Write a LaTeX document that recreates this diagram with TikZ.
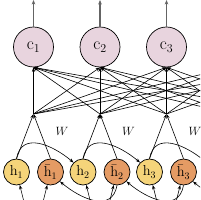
\documentclass[tikz,border=0pt]{standalone}
\usetikzlibrary{arrows.meta}
\definecolor{cpink}{RGB}{232,212,222}
\definecolor{hyel}{RGB}{245,212,122}
\definecolor{hora}{RGB}{229,155,100}
\definecolor{topgray}{RGB}{100,100,100}
\begin{document}
\begin{tikzpicture}[x=1pt,y=1pt,
  conn/.style={line width=0.6pt, -{Stealth[length=4.5pt,width=3.2pt]}},
  topconn/.style={line width=1.2pt, draw=topgray, -{Stealth[length=4.5pt,width=3.6pt]}},
  cnode/.style={circle, draw, line width=0.7pt, fill=cpink, minimum size=40pt, inner sep=0pt, font=\fontsize{17}{19}\selectfont},
  hnode/.style={circle, draw, line width=0.7pt, fill=hyel, minimum size=26pt, inner sep=0pt, font=\fontsize{14}{16}\selectfont},
  bnode/.style={hnode, fill=hora},
  wlab/.style={font=\fontsize{13}{15}\selectfont}
]
\useasboundingbox (0,0) rectangle (200,200);
\clip (0,0) rectangle (200,200);
% top nodes
\node[cnode] (c1) at (33.5,153) {$\mathrm{c}_1$};
\node[cnode] (c2) at (100,153) {$\mathrm{c}_2$};
\node[cnode] (c3) at (166.5,153) {$\mathrm{c}_3$};
\coordinate (cs1) at (c1.south);
\coordinate (cs2) at (c2.south);
\coordinate (cs3) at (c3.south);
\coordinate (cs4) at (233,133);
\coordinate (cs5) at (299.5,133);
\coordinate (T1) at (33.5,200);
\coordinate (T2) at (100,200);
\coordinate (T3) at (166.5,200);
% junctions and inputs
\foreach \k/\x in {1/33.5,2/100,3/166.5,4/233,5/299.5}{
  \coordinate (J\k) at (\x,86);
  \coordinate (X\k) at (\x,-40);
}
% hidden nodes
\node[hnode] (h1) at (16.5,28) {$\mathrm{h}_1$};
\node[bnode] (hb1) at (50.5,28) {$\bar{\mathrm{h}}_1$};
\node[hnode] (h2) at (83,28) {$\mathrm{h}_2$};
\node[bnode] (hb2) at (117,28) {$\bar{\mathrm{h}}_2$};
\node[hnode] (h3) at (149.5,28) {$\mathrm{h}_3$};
\node[bnode] (hb3) at (183.5,28) {$\bar{\mathrm{h}}_3$};
\coordinate (h4nw) at (206.8,37.2);
\coordinate (hb4s) at (250,15);
% outputs
\foreach \k in {1,2,3}{ \draw[topconn] (c\k.north) -- (T\k); }
% attention connections
\foreach \j in {1,...,5}{
  \foreach \i in {1,...,5}{
    \draw[conn] (J\j) -- (cs\i);
  }
}
% hidden to junction
\foreach \k in {1,2,3}{
  \draw[conn] (h\k.north) -- (J\k);
  \draw[conn] (hb\k.north) -- (J\k);
  \draw[conn] (X\k) -- (h\k);
  \draw[conn] (X\k) -- (hb\k);
}
% recurrences
\draw[conn] (h1.north) to[out=80,in=140,looseness=1.25] (h2.north west);
\draw[conn] (h2.north) to[out=80,in=140,looseness=1.25] (h3.north west);
\draw[conn] (h3.north) to[out=80,in=140,looseness=1.25] (h4nw);
\draw[conn] (hb2.south) to[out=-100,in=-40,looseness=1.25] (hb1.south east);
\draw[conn] (hb3.south) to[out=-100,in=-40,looseness=1.25] (hb2.south east);
\draw[conn] (hb4s) to[out=-100,in=-40,looseness=1.25] (hb3.south east);
\node[wlab] (w1) at (62,69) {$W$};
\node[wlab] (w2) at (128.5,69) {$W$};
\node[wlab] (w3) at (195,69) {$W$};
\end{tikzpicture}
\end{document}
